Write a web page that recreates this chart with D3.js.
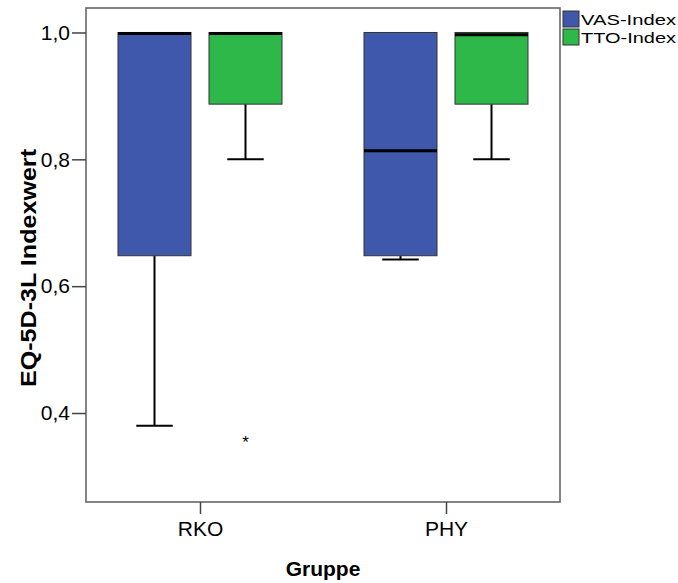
<!DOCTYPE html>
<html><head><meta charset="utf-8">
<script src="https://cdn.jsdelivr.net/npm/d3@7"></script>
<style>body{margin:0;background:#fff}text{font-family:Arial,"Liberation Sans",sans-serif}</style>
</head><body>
<svg id="c" width="678" height="583"></svg>
<script>
const groups = ["RKO", "PHY"];
const series = ["VAS-Index", "TTO-Index"];
const colors = ["#3f58ab", "#2fb84a"];
// per series, per group
const whiskerLow = [[0.380, 0.642], [0.800, 0.800]];
const q1 = [[0.648, 0.648], [0.887, 0.887]];
const median = [[1.000, 0.815], [1.000, 0.998]];
const q3 = [[1.000, 1.000], [1.000, 1.000]];
const whiskerHigh = [[1.000, 1.000], [1.000, 1.000]];
const outliers = [{group: "RKO", series: "TTO-Index", value: 0.359}];
const yTicks = [0.4, 0.6, 0.8, 1.0];
const yTickLabels = ["0,4", "0,6", "0,8", "1,0"];

const svg = d3.select("#c");
const L = 86, R = 560, T = 8, B = 502;
const y = d3.scaleLinear().domain([0.2597, 1.0386]).range([B, T]);
const x = d3.scalePoint().domain(groups).range([L, R]).padding(0.4634);
const xs = d3.scaleBand().domain(series).range([-82, 82]).paddingInner(0.1978);
const bw = xs.bandwidth();

series.forEach((s, si) => {
  groups.forEach((g, gi) => {
    const cx = x(g) + xs(s) + bw / 2;
    const gg = svg.append("g");
    gg.append("line").attr("x1", cx).attr("x2", cx)
      .attr("y1", y(q1[si][gi])).attr("y2", y(whiskerLow[si][gi]))
      .attr("stroke", "#000").attr("stroke-width", 2);
    gg.append("line").attr("x1", cx - bw / 4).attr("x2", cx + bw / 4)
      .attr("y1", y(whiskerLow[si][gi])).attr("y2", y(whiskerLow[si][gi]))
      .attr("stroke", "#000").attr("stroke-width", 2);
    if (whiskerHigh[si][gi] > q3[si][gi]) {
      gg.append("line").attr("x1", cx).attr("x2", cx)
        .attr("y1", y(q3[si][gi])).attr("y2", y(whiskerHigh[si][gi]))
        .attr("stroke", "#000").attr("stroke-width", 2);
    }
    gg.append("rect").attr("x", x(g) + xs(s)).attr("width", bw)
      .attr("y", y(q3[si][gi])).attr("height", y(q1[si][gi]) - y(q3[si][gi]))
      .attr("fill", colors[si]).attr("stroke", "#333").attr("stroke-width", 1);
    gg.append("line").attr("x1", x(g) + xs(s)).attr("x2", x(g) + xs(s) + bw)
      .attr("y1", y(median[si][gi]) + 1).attr("y2", y(median[si][gi]) + 1)
      .attr("stroke", "#000").attr("stroke-width", 3);
  });
});

outliers.forEach(o => {
  svg.append("text").attr("x", x(o.group) + xs(o.series) + bw / 2)
    .attr("y", y(o.value) + 9).attr("text-anchor", "middle")
    .attr("font-size", 17).text("*");
});

svg.append("rect").attr("x", L).attr("y", T).attr("width", R - L).attr("height", B - T)
  .attr("fill", "none").attr("stroke", "#666").attr("stroke-width", 1.6);

const ya = svg.append("g").attr("transform", `translate(${L},0)`)
  .call(d3.axisLeft(y).tickValues(yTicks).tickSize(14).tickPadding(2)
    .tickFormat((d, i) => yTickLabels[i]));
ya.select(".domain").remove();
ya.selectAll("line").attr("stroke", "#444").attr("stroke-width", 1.5);
ya.selectAll("text").attr("font-size", 21).attr("fill", "#000").attr("font-family", "Arial, Liberation Sans, sans-serif");

const xa = svg.append("g").attr("transform", `translate(0,${B})`)
  .call(d3.axisBottom(x).tickSize(12).tickPadding(7));
xa.select(".domain").remove();
xa.selectAll("line").attr("stroke", "#444").attr("stroke-width", 1.5);
xa.selectAll("text").attr("font-size", 21).attr("fill", "#000").attr("font-family", "Arial, Liberation Sans, sans-serif");

svg.append("text").attr("x", (L + R) / 2).attr("y", 576).attr("text-anchor", "middle")
  .attr("font-size", 21).attr("font-weight", "bold").text("Gruppe");
svg.append("text").attr("transform", "translate(36,268) rotate(-90)").attr("text-anchor", "middle")
  .attr("font-size", 22).attr("font-weight", "bold")
  .attr("textLength", 238).attr("lengthAdjust", "spacingAndGlyphs").text("EQ-5D-3L Indexwert");

series.forEach((s, i) => {
  svg.append("rect").attr("x", 563).attr("y", 11 + i * 18).attr("width", 16).attr("height", 16)
    .attr("fill", colors[i]).attr("stroke", "#333").attr("stroke-width", 1);
  svg.append("text").attr("x", 581).attr("y", 25 + i * 18).attr("font-size", 15.5)
    .attr("textLength", 95).attr("lengthAdjust", "spacingAndGlyphs").text(s);
});
</script>
</body></html>
